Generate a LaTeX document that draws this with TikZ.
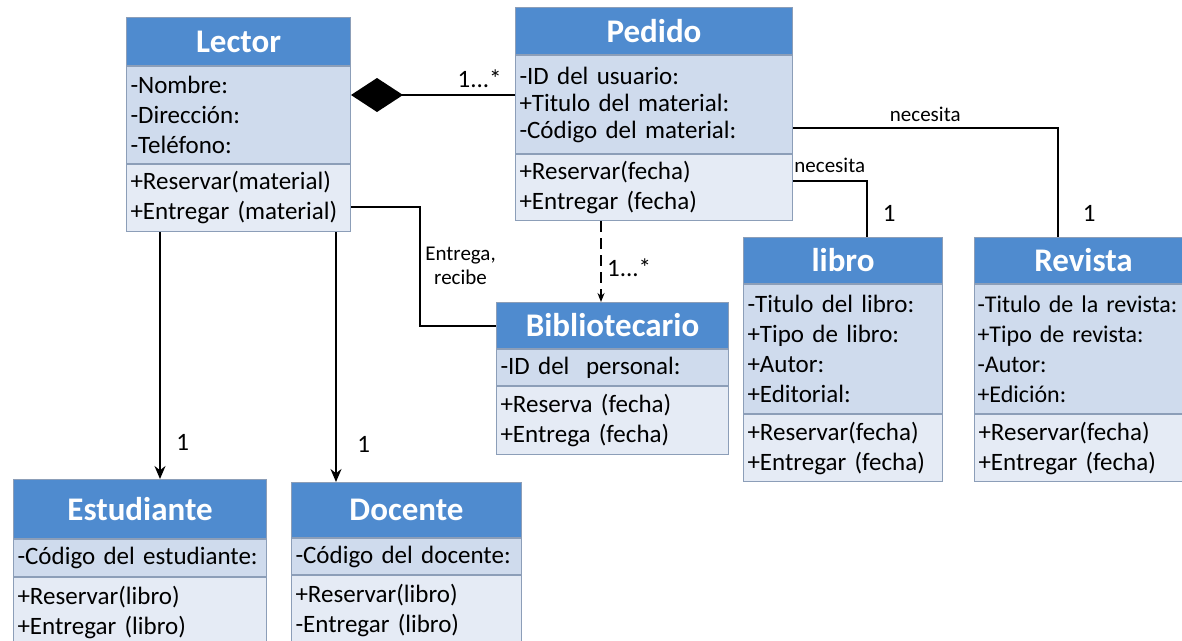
\documentclass[tikz,border=0pt]{standalone}
\usepackage{fontspec}
\setmainfont{Carlito}
\usepackage{xcolor}
\usepackage{tikz}
\usetikzlibrary{arrows.meta}
\usetikzlibrary{positioning}

\definecolor{headblue}{RGB}{79,139,207}
\definecolor{attrblue}{RGB}{207,219,237}
\definecolor{opsblue}{RGB}{229,235,245}
\definecolor{edgegray}{RGB}{140,158,184}

\begin{document}
\begin{tikzpicture}[x=1pt,y=-1pt,>={Stealth[length=13pt,width=11pt]},line width=2pt,node distance=0pt]
 \tikzstyle{head}=[draw=edgegray, fill=headblue, text=white, line width=1pt, anchor=north west, inner sep=0pt, font=\bfseries\fontsize{33}{36}\selectfont]
 \tikzstyle{attrs}=[draw=edgegray, fill=attrblue, line width=1pt, align=left, inner xsep=4pt, inner ysep=0pt, font=\fontsize{25}{30}\selectfont]
 \tikzstyle{ops}=[attrs, fill=opsblue]
 \tikzstyle{note}=[font=\fontsize{21}{24}\selectfont]
 \tikzstyle{mult}=[font=\fontsize{25}{29}\selectfont]
 \useasboundingbox (0,0) rectangle (1182,640);

 % clases
 \node[head, minimum width=224pt, minimum height=48pt] (lector) at (126,17) {Lector};
 \node[attrs, text width=216pt, minimum height=97pt] (lector-a) [below=of lector] {-Nombre:\\-Dirección:\\-Teléfono:};
 \node[ops, text width=216pt, minimum height=67pt] (lector-o) [below=of lector-a] {+Reservar(material)\\+Entregar (material)};

 \node[head, minimum width=277pt, minimum height=47pt] (pedido) at (515,7) {Pedido};
 \node[attrs, text width=269pt, minimum height=98pt, font=\fontsize{25}{27}\selectfont] (pedido-a) [below=of pedido] {-ID del usuario:\\+Titulo del material:\\-Código del material:};
 \node[ops, text width=269pt, minimum height=66pt] (pedido-o) [below=of pedido-a] {+Reservar(fecha)\\+Entregar (fecha)};

 \node[head, minimum width=232pt, minimum height=46pt] (biblio) at (496,302) {Bibliotecario};
 \node[attrs, text width=224pt, minimum height=36pt] (biblio-a) [below=of biblio] {-ID del\ \ personal:};
 \node[ops, text width=224pt, minimum height=68pt] (biblio-o) [below=of biblio-a] {+Reserva (fecha)\\+Entrega (fecha)};

 \node[head, minimum width=199pt, minimum height=46pt] (libro) at (743,237) {libro};
 \node[attrs, text width=191pt, minimum height=129pt] (libro-a) [below=of libro] {-Titulo del libro:\\+Tipo de libro:\\+Autor:\\+Editorial:};
 \node[ops, text width=191pt, minimum height=67pt] (libro-o) [below=of libro-a] {+Reservar(fecha)\\+Entregar (fecha)};

 \node[head, minimum width=230pt, minimum height=46pt] (revista) at (974,237) {\hspace*{-12pt}Revista};
 \node[attrs, text width=224pt, inner xsep=3pt, minimum height=129pt, font=\fontsize{24}{30}\selectfont] (revista-a) [below=of revista] {-Titulo de la revista:\\+Tipo de revista:\\-Autor:\\+Edición:};
 \node[ops, text width=222pt, minimum height=67pt] (revista-o) [below=of revista-a] {+Reservar(fecha)\\+Entregar (fecha)};

 \node[head, minimum width=253pt, minimum height=59pt] (estudiante) at (13,479) {Estudiante};
 \node[attrs, text width=245pt, minimum height=37pt] (estudiante-a) [below=of estudiante] {-Código del estudiante:};
 \node[ops, text width=245pt, minimum height=70pt] (estudiante-o) [below=of estudiante-a] {+Reservar(libro)\\+Entregar (libro)};

 \node[head, minimum width=230pt, minimum height=55pt] (docente) at (291,482) {Docente};
 \node[attrs, text width=222pt, minimum height=36pt] (docente-a) [below=of docente] {-Código del docente:};
 \node[ops, text width=222pt, minimum height=70pt] (docente-o) [below=of docente-a] {+Reservar(libro)\\-Entregar (libro)};

 % relaciones
 \coordinate (drop) at ([xshift=86pt]pedido-o.south west);
 \coordinate (est) at ([xshift=34pt]lector-o.south west);
 \coordinate (doc) at ([xshift=210pt]lector-o.south west);

 \draw[{Diamond[length=52pt,width=34pt]}-] ([yshift=-29pt]lector-a.north east) -- ([yshift=-40pt]pedido-a.north west)
   node[mult, pos=1, anchor=south east, xshift=-9pt, yshift=3pt] {1...*};
 \draw ([yshift=-73pt]pedido-a.north east) -| ([xshift=-32pt]revista.north)
   node[note, pos=0.25, above, yshift=2pt] {necesita} node[mult, pos=0.89, right=21pt] {1};
 \draw ([yshift=-27pt]pedido-o.north east) -| ([xshift=23.5pt]libro.north)
   node[note, pos=0.25, above, yshift=4pt] {necesita} node[mult, pos=0.79, right=12pt] {1};
 \draw[->, line width=1.6pt, dash pattern=on 11pt off 6pt, >={Stealth[length=9pt,width=7pt]}] (drop) -- (drop |- biblio.north)
   node[mult, pos=0.58, right=2pt] {1...*};
 \draw ([yshift=-43pt]lector-o.north east) -| ([xshift=-76pt]biblio.west)
   node[note, pos=0.75, right=1pt, align=center] {Entrega,\\recibe} -- (biblio.west);
 \draw[->] (est) -- (est |- estudiante.north) node[mult, pos=0.85, right=12pt] {1};
 \draw[->] (doc) -- (doc |- docente.north) node[mult, pos=0.85, right=17pt] {1};
\end{tikzpicture}
\end{document}
